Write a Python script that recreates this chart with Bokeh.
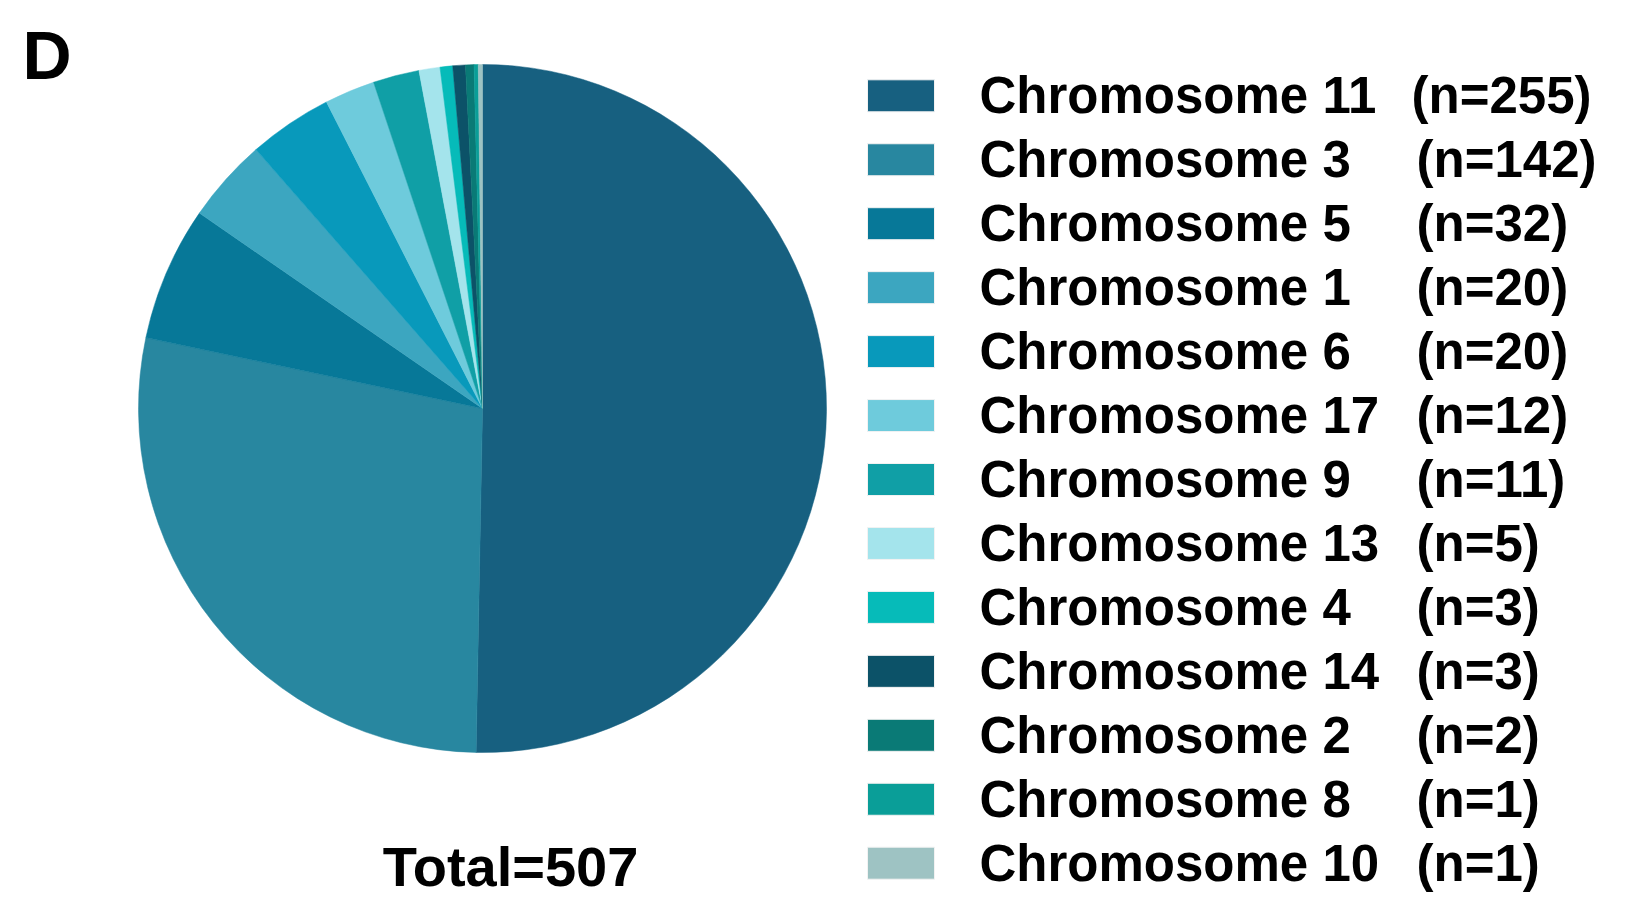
import math
from bokeh.plotting import figure
from bokeh.models import Range1d, ColumnDataSource
from bokeh.core.properties import value
from bokeh.embed import file_html
from bokeh.resources import INLINE

# ---- data ----
chromosomes = ["Chromosome 11", "Chromosome 3", "Chromosome 5", "Chromosome 1",
               "Chromosome 6", "Chromosome 17", "Chromosome 9", "Chromosome 13",
               "Chromosome 4", "Chromosome 14", "Chromosome 2", "Chromosome 8",
               "Chromosome 10"]
counts = [255, 142, 32, 20, 20, 12, 11, 5, 3, 3, 2, 1, 1]
colors = ["#176080", "#2887a0", "#077898", "#3ca6c0", "#0899bb", "#6ecbdc",
          "#109fa6", "#a4e4ec", "#06bbb9", "#0c5268", "#0a7a76", "#0a9e98",
          "#9ec3c3"]
panel_label = "D"

W, H = 1626, 903
total = sum(counts)

def Y(full_y):
    # convert a page-pixel y (from top) to data y
    return H - full_y

def X(full_x):
    return full_x

p = figure(width=W, height=H, output_backend="svg", toolbar_location=None,
           x_range=Range1d(0, W), y_range=Range1d(0, H), min_border=0,
           outline_line_color=None)
p.axis.visible = False
p.grid.visible = False

# ---- pie ----
starts, ends = [], []
cum = 0
for c in counts:
    starts.append(math.pi / 2 - cum / total * 2 * math.pi)
    cum += c
    ends.append(math.pi / 2 - cum / total * 2 * math.pi)

src = ColumnDataSource(dict(start=starts, end=ends, color=colors,
                            name=chromosomes, n=counts))
cx, cy, r = X(482), Y(408), 344
p.wedge(x=cx, y=cy, radius=r, start_angle="start", end_angle="end",
        direction="clock", fill_color="color", line_color="color",
        line_width=0.5, source=src)

# ---- legend ----
row0, dy = 95.3, 63.95
lx = [X(900.5)] * len(counts)
ly = [Y(row0 + i * dy) for i in range(len(counts))]
lsrc = ColumnDataSource(dict(x=lx, y=ly, color=colors, name=chromosomes,
                             nlab=["(n=%d)" % c for c in counts],
                             tx=[X(979)] * len(counts),
                             nx=[X(1411)] + [X(1416)] * (len(counts) - 1)))
p.rect(x="x", y="y", width=67, height=32, fill_color="color",
       line_color="#f2f2f2", line_width=1, source=lsrc)
p.text(x="tx", y="y", text="name", source=lsrc, text_font=value("Liberation Sans"),
       text_font_style="bold", text_font_size=value("51px"),
       text_baseline="middle", text_align="left", text_color="black")
p.text(x="nx", y="y", text="nlab", source=lsrc, text_font=value("Liberation Sans"),
       text_font_style="bold", text_font_size=value("51px"),
       text_baseline="middle", text_align="left", text_color="black")

# ---- total & panel label ----
p.text(x=[X(510)], y=[Y(866)], text=["Total=%d" % total],
       text_font=value("Liberation Sans"), text_font_style="bold",
       text_font_size=value("56px"), text_baseline="middle", text_align="center",
       text_color="black")
p.text(x=[X(22)], y=[Y(54)], text=[panel_label],
       text_font=value("Liberation Sans"), text_font_style="bold",
       text_font_size=value("68px"), text_baseline="middle", text_align="left",
       text_color="black")

open("out.html", "w").write(file_html(p, INLINE))
